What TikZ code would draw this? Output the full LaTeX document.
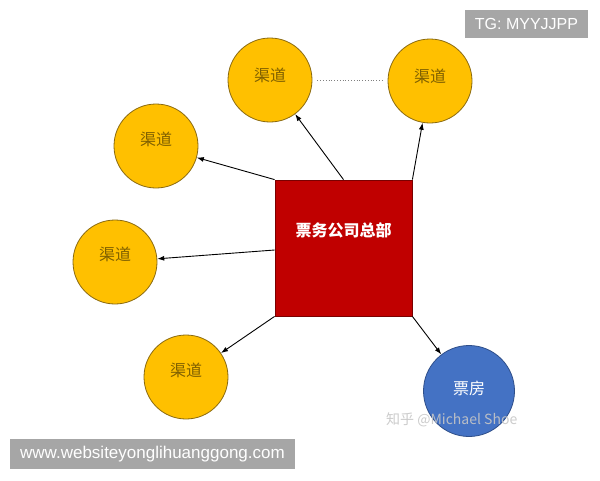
\documentclass[tikz,border=0pt]{standalone}
\usepackage{fontspec}
\setmainfont{Liberation Sans}
\newfontfamily\cjk{Noto Sans CJK SC}
\usetikzlibrary{arrows.meta}
\definecolor{chyellow}{HTML}{FFC000}
\definecolor{chyborder}{HTML}{8A6A10}
\definecolor{chytext}{HTML}{7F6000}
\definecolor{hqred}{HTML}{C00000}
\definecolor{hqborder}{HTML}{7A0000}
\definecolor{boblue}{HTML}{4472C4}
\definecolor{boborder}{HTML}{2F4F8A}
\definecolor{wmgray}{HTML}{A6A6A6}
\begin{document}
\begin{tikzpicture}[x=1pt,y=-1pt,
  channel/.style={circle, draw=chyborder, line width=0.8pt, fill=chyellow, minimum size=84pt, inner sep=0pt,
    text=chytext, font=\cjk\fontsize{16}{18}\selectfont},
  office/.style={circle, draw=boborder, line width=0.8pt, fill=boblue, minimum size=91pt, inner sep=0pt,
    text=white, font=\cjk\fontsize{16}{18}\selectfont},
  hqbox/.style={rectangle, draw=hqborder, line width=0.8pt, fill=hqred, minimum width=137pt, minimum height=136pt,
    inner sep=0pt, text=white, font=\cjk\bfseries\fontsize{16}{18}\selectfont},
  link/.style={-{Latex[length=7pt,width=5pt]}, line width=0.9pt, black},
  tagbox/.style={rectangle, fill=wmgray, inner sep=0pt, text=white}
]
\useasboundingbox (0,0) rectangle (600,480);
\fill[white] (0,0) rectangle (600,480);

\node[hqbox] (hq) at (343.5,248) {\raisebox{36pt}{票务公司总部}};

\node[channel] (c1) at (156,146) {\raisebox{15pt}{渠道}};
\node[channel] (c2) at (270,80) {\raisebox{11pt}{渠道}};
\node[channel] (c3) at (430,81) {\raisebox{11pt}{渠道}};
\node[channel] (c4) at (115,262) {\raisebox{16pt}{渠道}};
\node[channel] (c5) at (186,377) {\raisebox{15pt}{渠道}};
\node[office] (bo) at (469,391) {\raisebox{6pt}{票房}};

\draw[link] (hq.north west) -- (c1);
\draw[link] (hq.north) -- (c2);
\draw[link] (hq.north east) -- (c3);
\draw[link] ([yshift=-2pt]hq.west) -- (c4);
\draw[link] (hq.south west) -- (c5);
\draw[link] (hq.south east) -- (bo);

\draw[dotted, gray, line width=0.8pt, shorten <=5pt, shorten >=5pt] (c2.east) -- (c2.east -| c3.west);

\node[text=gray!45, opacity=0.9, font=\cjk\fontsize{14}{16}\selectfont, anchor=west, inner sep=0pt] (wm) at (386,420) {知乎 @Michael Shoe};

\node[tagbox, minimum width=123pt, minimum height=28pt, font=\fontsize{16}{18}\selectfont] (tg) at (526.5,24) {TG: MYYJJPP};
\node[tagbox, minimum width=285pt, minimum height=30pt, font=\fontsize{17}{19}\selectfont] (url) at (152.5,454) {www.websiteyonglihuanggong.com};
\end{tikzpicture}
\end{document}
